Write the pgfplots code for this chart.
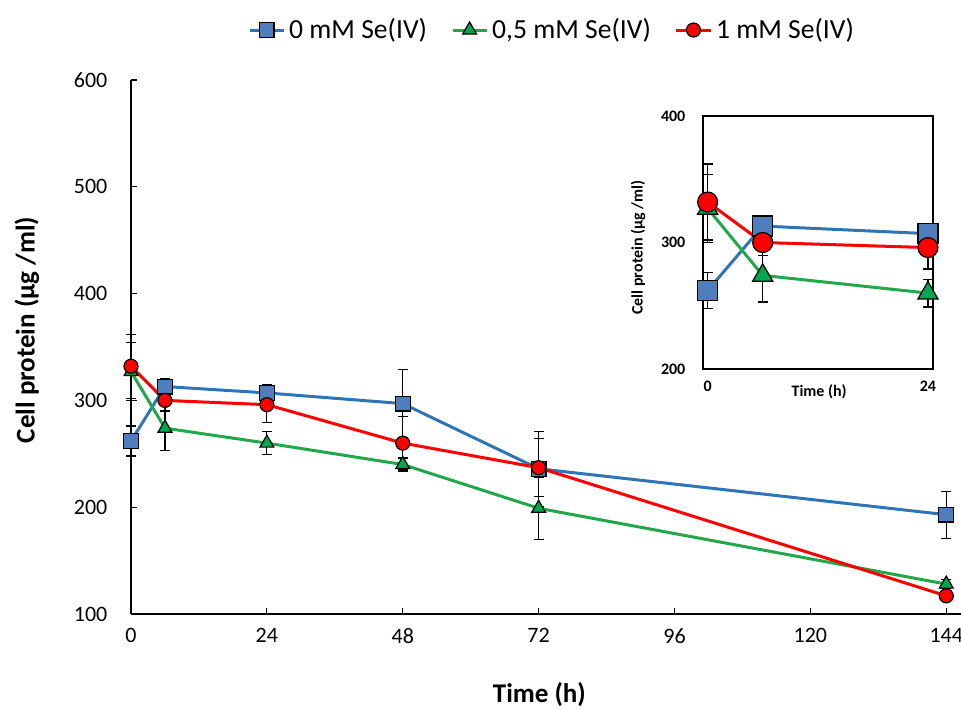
\documentclass[border=0pt]{standalone}
\usepackage{fontspec}
\setmainfont{Carlito}
\usepackage{pgfplots}
\usepackage{pgfplotstable}
\pgfplotsset{compat=1.18}
\definecolor{lnblue}{HTML}{2E75B6}
\definecolor{mkblue}{HTML}{4F7EBD}
\definecolor{lngreen}{HTML}{22A84A}
\definecolor{mkgreen}{HTML}{00A650}
\definecolor{lnred}{HTML}{FF0000}

% time (h), cell protein (ug/ml), error
\pgfplotstableread{
t y e
0 262 14
6 313 7
24 307 8
48 297 32
72 236 35
144 193 22
}\seZero
\pgfplotstableread{
t y e
0 327 27
6 274 21
24 260 11
48 240 6
72 199 29
144 128 4
}\seHalf
\pgfplotstableread{
t y e
0 332 30
6 300 10
24 296 17
48 260 25
72 237 27
144 117 3
}\seOne

\pgfplotsset{
  errs/.style={line width=1.5pt,
    error bars/y dir=both, error bars/y explicit,
    error bars/error bar style={black,line width=0.6pt},
    error bars/error mark options={rotate=90,black,mark size=2.5pt,line width=0.6pt}},
}

\begin{document}
\begin{tikzpicture}
\useasboundingbox (-65.5pt,-47.5pt) rectangle (415pt,307pt);
\begin{axis}[at={(0pt,0pt)},anchor=south west,scale only axis,
  width=415pt,height=267pt,
  xmin=0,xmax=146.6,ymin=100,ymax=600,
  xtick={0,24,...,144},ytick={100,200,...,600},
  axis x line=bottom,axis y line=left,
  axis line style={line width=1.2pt,-},
  tick align=inside,major tick length=3pt,
  tick style={black,line width=0.6pt},
  /pgf/number format/assume math mode=true,
  ticklabel style={font=\fontsize{11}{13}\selectfont},
  xticklabel style={yshift=-3.7pt},
  yticklabel style={xshift=-8.3pt},
  xlabel={Time (h)},ylabel={Cell protein (µg /ml)},
  label style={font=\bfseries\fontsize{13.5}{16}\selectfont},
  xlabel style={at={(axis description cs:0.492,-0.15)},anchor=center},
  ylabel style={at={(axis description cs:-0.1253,0.532)},anchor=center},
  clip=false,
  legend columns=-1,
  legend style={draw=none,at={(axis description cs:0.5084,1.0936)},anchor=center,
    font=\fontsize{13.8}{16}\selectfont,
    /tikz/every even column/.append style={column sep=10pt}},
  legend cell align=left]
\addplot[errs,color=lnblue,mark=square*,mark size=3.7pt,
  mark options={fill=mkblue,draw=black,line width=0.6pt}]
  table[x=t,y=y,y error=e]{\seZero};
\addlegendentry{0 mM Se(IV)}
\addplot[errs,color=lngreen,mark=triangle*,mark size=4pt,
  mark options={fill=mkgreen,draw=black,line width=0.6pt}]
  table[x=t,y=y,y error=e]{\seHalf};
\addlegendentry{0,5 mM Se(IV)}
\addplot[errs,color=lnred,mark=*,mark size=3.5pt,
  mark options={fill=lnred,draw=black,line width=0.6pt}]
  table[x=t,y=y,y error=e]{\seOne};
\addlegendentry{1 mM Se(IV)}
\end{axis}

% inset
\begin{axis}[at={(286pt,122.5pt)},anchor=south west,scale only axis,
  width=115pt,height=126.5pt,
  xmin=-0.5,xmax=24.55,ymin=200,ymax=400,
  xtick={0,24},ytick={200,300,400},
  major tick length=0pt,
  axis line style={line width=0.7pt},
  /pgf/number format/assume math mode=true,
  ticklabel style={font=\bfseries\fontsize{8}{9}\selectfont},
  xticklabel style={yshift=-2.7pt},
  yticklabel style={xshift=-5.3pt},
  xlabel={Time (h)},ylabel={Cell protein (µg /ml)},
  label style={font=\bfseries\fontsize{8}{9}\selectfont},
  xlabel style={at={(axis description cs:0.505,-0.09)},anchor=center},
  ylabel style={at={(axis description cs:-0.283,0.48)},anchor=center},
  clip=false]
\addplot[errs,color=lnblue,mark=square*,mark size=5pt,
  mark options={fill=mkblue,draw=black,line width=0.6pt},
  restrict x to domain=-1:25]
  table[x=t,y=y,y error=e]{\seZero};
\addplot[errs,color=lngreen,mark=triangle*,mark size=5.8pt,
  mark options={fill=mkgreen,draw=black,line width=0.6pt},
  restrict x to domain=-1:25]
  table[x=t,y=y,y error=e]{\seHalf};
\addplot[errs,color=lnred,mark=*,mark size=5pt,
  mark options={fill=lnred,draw=black,line width=0.6pt},
  restrict x to domain=-1:25]
  table[x=t,y=y,y error=e]{\seOne};
\end{axis}
\end{tikzpicture}
\end{document}
